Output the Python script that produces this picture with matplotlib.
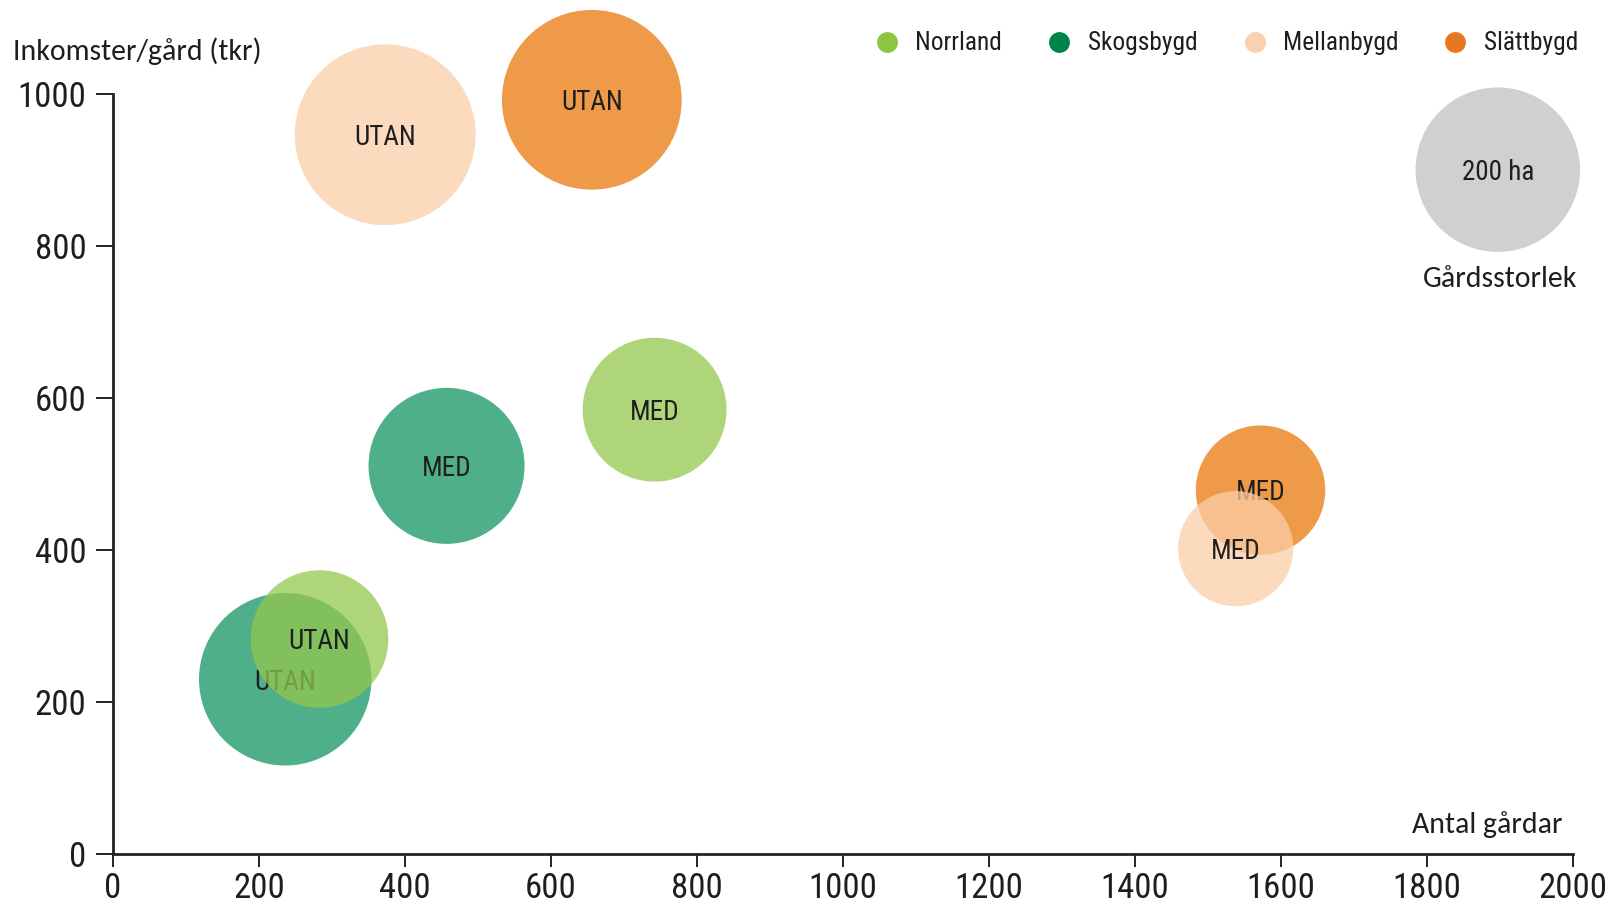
import matplotlib
matplotlib.use("Agg")
import matplotlib.pyplot as plt
from matplotlib.lines import Line2D

# ---- data ----
regions = ["Norrland", "Skogsbygd", "Mellanbygd", "Slättbygd"]
legend_colors = ["#8CC63F", "#00844A", "#FAD0AE", "#E87722"]
bubble_colors = ["#93C74E", "#149463", "#FACEA7", "#EA780A"]
zorders = [4, 1, 3, 2]

labels = ["MED", "UTAN"]
# antal gårdar per region: [MED, UTAN]
antal_gardar = {
    "Norrland":   [742, 283],
    "Skogsbygd":  [457, 236],
    "Mellanbygd": [1538, 373],
    "Slättbygd":  [1572, 656],
}
# inkomster/gård (tkr)
inkomster = {
    "Norrland":   [585, 283],
    "Skogsbygd":  [511, 230],
    "Mellanbygd": [402, 947],
    "Slättbygd":  [479, 993],
}
# gårdsstorlek (ha)
gardsstorlek = {
    "Norrland":   [153, 140],
    "Skogsbygd":  [180, 220],
    "Mellanbygd": [98, 242],
    "Slättbygd":  [124, 239],
}
ref_size_ha = 200
ref_pos = (1897, 901)

x_ticks = [0, 200, 400, 600, 800, 1000, 1200, 1400, 1600, 1800, 2000]
y_ticks = [0, 200, 400, 600, 800, 1000]

# ---- style ----
COND = ["Roboto Condensed", "Roboto", "DejaVu Sans"]
TITLEF = ["Carlito", "Lato", "DejaVu Sans"]
TXT = "#1e1e1e"
SIZE_SCALE = 70.1  # points^2 per ha
ALPHA = 0.75
W = 1611
H = 905

fig = plt.figure(figsize=(16.11, 9.05), dpi=100)
ax = fig.add_axes([0.0701, 0.0564, 0.9063, 0.8392])
ax.set_xlim(0, 2000)
ax.set_ylim(0, 1000)

for reg, bc, z in zip(regions, bubble_colors, zorders):
    for i, lab in enumerate(labels):
        x = antal_gardar[reg][i]
        y = inkomster[reg][i]
        s = gardsstorlek[reg][i] * SIZE_SCALE
        ax.scatter([x], [y], s=s, color=bc, alpha=ALPHA, edgecolors="none",
                   zorder=z, clip_on=False)
        ax.annotate(lab, (x, y), xytext=(0, -2), textcoords="offset points",
                    ha="center", va="center", fontsize=19.5,
                    family=COND, color=TXT, zorder=z + 0.5)

# reference bubble
ax.scatter([ref_pos[0]], [ref_pos[1]], s=ref_size_ha * SIZE_SCALE,
           color="#D0D0D0", edgecolors="none", zorder=1, clip_on=False)
ax.annotate(f"{ref_size_ha} ha", ref_pos, xytext=(0, -2), textcoords="offset points",
            ha="center", va="center", fontsize=19.5, family=COND, color=TXT,
            zorder=2, annotation_clip=False)
fig.text(1500 / W, 1 - 279 / H, "Gårdsstorlek", ha="center", va="center",
         fontsize=21.5, family=TITLEF, color=TXT)

# spines / ticks
for sp in ["top", "right"]:
    ax.spines[sp].set_visible(False)
for sp in ["left", "bottom"]:
    ax.spines[sp].set_linewidth(2)
    ax.spines[sp].set_color("#222222")
ax.set_xticks(x_ticks)
ax.set_yticks(y_ticks)
ax.set_xticklabels([str(v) for v in x_ticks])
ax.set_yticklabels([str(v) for v in y_ticks])
ax.tick_params(axis="both", direction="out", width=1.4,
               color="#222222", labelsize=25, labelcolor=TXT)
ax.tick_params(axis="x", length=9, pad=4)
ax.tick_params(axis="y", length=12, pad=7)
for lbl in ax.get_xticklabels() + ax.get_yticklabels():
    lbl.set_family(COND)

fig.text(13 / W, 1 - 51 / H, "Inkomster/gård (tkr)", ha="left", va="center",
         fontsize=21.5, family=TITLEF, color=TXT)
fig.text(1563 / W, 1 - 825 / H, "Antal gårdar", ha="right", va="center",
         fontsize=21.5, family=TITLEF, color=TXT)

# legend (manual layout)
leg_marker_x = [886.6, 1059.2, 1254.5, 1454.8]
leg_text_x = [915.4, 1088.0, 1283.2, 1483.6]
leg_y = 43
for reg, c, mx, tx in zip(regions, legend_colors, leg_marker_x, leg_text_x):
    fig.add_artist(Line2D([mx / W], [1 - 42.5 / H], marker="o", linestyle="none",
                          markersize=15, markerfacecolor=c, markeredgecolor="none",
                          transform=fig.transFigure))
    fig.text(tx / W, 1 - leg_y / H, reg, ha="left", va="center", fontsize=18.3,
             family=COND, color=TXT)

fig.savefig("out.png", dpi=100, facecolor="white")
